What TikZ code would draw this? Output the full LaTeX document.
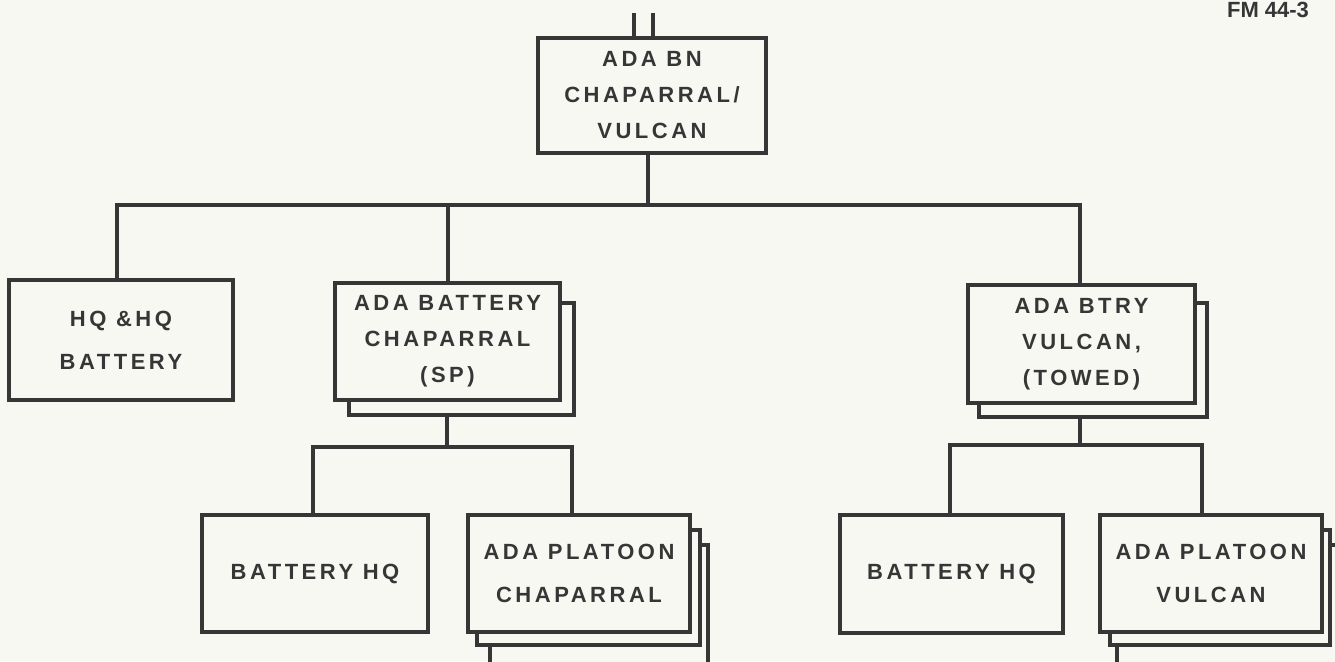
\documentclass[tikz,border=0pt]{standalone}
\usepackage{fontspec}
\setmainfont{Liberation Sans}
\newfontfamily\lettering[LetterSpace=16]{Liberation Sans}
\usetikzlibrary{calc}
\definecolor{ink}{HTML}{363636}
\definecolor{paper}{HTML}{F8F8F3}
\pgfdeclarelayer{back}
\pgfsetlayers{back,main}
\begin{document}
\begin{tikzpicture}[x=1pt,y=-1pt,
  box/.style={draw=ink, line width=4pt, fill=paper, inner sep=0pt, outer sep=0pt,
    align=center, text=ink, font=\lettering\bfseries\fontsize{22}{36}\selectfont},
  shadowbox/.style={draw=ink, line width=4pt, fill=paper, inner sep=0pt, outer sep=0pt},
  conn/.style={draw=ink, line width=4pt},
  wide2/.style={font=\lettering\bfseries\fontsize{22}{43}\selectfont}
]
\useasboundingbox (0,0) rectangle (1335,661);
\begin{pgfonlayer}{back}
  \fill[paper] (0,0) rectangle (1335,661);
  % stacked copies behind the multi-unit boxes
  \node[shadowbox, minimum width=225pt, minimum height=112pt] (abcs) at (461.5,359) {};
  \node[shadowbox, minimum width=228pt, minimum height=114pt] (vbs) at (1093,360) {};
  \node[shadowbox, minimum width=218pt, minimum height=123pt] (apcs2) at (599,606.5) {};
  \node[shadowbox, minimum width=223pt, minimum height=115pt] (apcs1) at (588.5,587.5) {};
  \node[shadowbox, minimum width=221pt, minimum height=123pt] (apvs2) at (1227.5,606.5) {};
  \node[shadowbox, minimum width=220pt, minimum height=115pt] (apvs1) at (1220,587.5) {};
\end{pgfonlayer}

% header
\node[anchor=base, text=ink, font=\bfseries\fontsize{22}{22}\selectfont, inner sep=0pt] (fm) at (1268,18) {FM 44-3};

% boxes
\node[box, minimum width=228pt, minimum height=115pt] (bn) at (652,95.5) {ADA BN\\CHAPARRAL/\\VULCAN};
\node[box, wide2, minimum width=224pt, minimum height=120pt] (hq) at (121,340) {HQ \&HQ\\BATTERY};
\node[box, minimum width=225pt, minimum height=117pt] (abc) at (447.5,341.5) {ADA BATTERY\\CHAPARRAL\\(SP)};
\node[box, minimum width=227pt, minimum height=118pt] (vb) at (1081.5,344) {ADA BTRY\\VULCAN,\\(TOWED)};
\node[box, minimum width=226pt, minimum height=117pt] (bhq1) at (315,573.5) {BATTERY HQ};
\node[box, wide2, minimum width=222pt, minimum height=117pt] (apc) at (579,573.5) {ADA PLATOON\\CHAPARRAL};
\node[box, minimum width=223pt, minimum height=118pt] (bhq2) at (951.5,574) {BATTERY HQ};
\node[box, wide2, minimum width=222pt, minimum height=117pt] (apv) at (1211,573.5) {ADA PLATOON\\VULCAN};

% connector coordinates
\coordinate (inA) at (634,13);
\coordinate (inB) at (653,13);
\coordinate (bnout) at (648,205);
\coordinate (busL) at (117,205);
\coordinate (busR) at (1080,205);
\coordinate (j1) at (447,447);
\coordinate (t1L) at (313,447);
\coordinate (t1R) at (572,447);
\coordinate (j2) at (1080,445);
\coordinate (t2L) at (950,445);
\coordinate (t2R) at (1202,445);

% connectors
\draw[conn] (inA) -- (inA |- bn.north);
\draw[conn] (inB) -- (inB |- bn.north);
\draw[conn] (bnout |- bn.south) -- (bnout);
\draw[conn] (busL |- hq.north) -- (busL) -- (busR) -- (busR |- vb.north);
\draw[conn] (abc.north |- busL) -- (abc.north);
\draw[conn] (abcs.south -| j1) -- (j1);
\draw[conn] (t1L |- bhq1.north) -- (t1L) -- (t1R) -- (t1R |- apc.north);
\draw[conn] (vbs.south -| j2) -- (j2);
\draw[conn] (t2L |- bhq2.north) -- (t2L) -- (t2R) -- (t2R |- apv.north);
\end{tikzpicture}
\end{document}
